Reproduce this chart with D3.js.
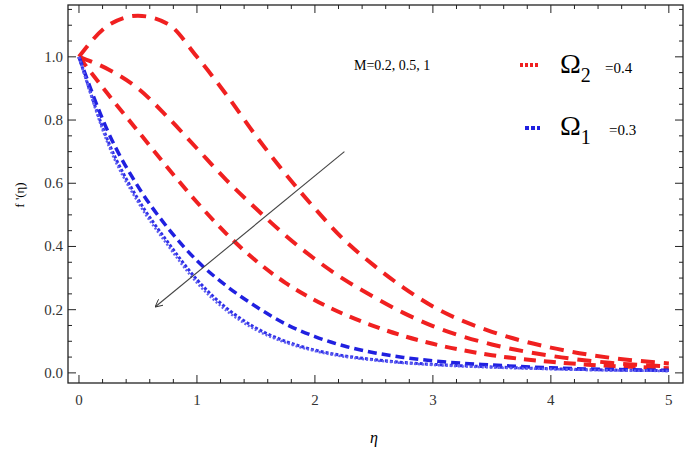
<!DOCTYPE html>
<html><head><meta charset="utf-8">
<script src="https://cdn.jsdelivr.net/npm/d3@7"></script>
<style>body{margin:0;background:#fff}text{font-family:"Liberation Serif",serif}</style>
</head><body><svg width="685" height="449"></svg>
<script>
const eta = [0, 0.25, 0.5, 0.75, 1, 1.25, 1.5, 1.75, 2, 2.25, 2.5, 2.75, 3, 3.5, 4, 4.5, 5];
const red1 = [1.0, 1.10, 1.13, 1.105, 1.0, 0.88, 0.75, 0.63, 0.52, 0.42, 0.34, 0.27, 0.21, 0.13, 0.08, 0.048, 0.03];
const red2 = [1.0, 0.96, 0.90, 0.81, 0.71, 0.61, 0.52, 0.435, 0.36, 0.295, 0.24, 0.19, 0.148, 0.09, 0.054, 0.032, 0.02];
const red3 = [1.0, 0.88, 0.765, 0.65, 0.54, 0.44, 0.355, 0.285, 0.23, 0.185, 0.148, 0.117, 0.092, 0.056, 0.035, 0.022, 0.015];
const blue1 = [1.0, 0.76, 0.59, 0.46, 0.355, 0.275, 0.21, 0.155, 0.115, 0.085, 0.064, 0.049, 0.038, 0.025, 0.016, 0.011, 0.008];
const blue2 = [1.0, 0.73, 0.55, 0.415, 0.295, 0.205, 0.142, 0.10, 0.072, 0.054, 0.042, 0.033, 0.027, 0.019, 0.013, 0.009, 0.007];
const blue3 = [1.0, 0.72, 0.54, 0.405, 0.285, 0.197, 0.136, 0.096, 0.069, 0.051, 0.04, 0.031, 0.025, 0.017, 0.012, 0.008, 0.006];
const xTicks = [0, 1, 2, 3, 4, 5];
const yTicks = [0, 0.2, 0.4, 0.6, 0.8, 1.0];

const svg = d3.select("svg");
const L = 68, R = 683, T = 5, B = 383;
const x = d3.scaleLinear().domain([-0.093, 5.12]).range([L, R]);
const y = d3.scaleLinear().domain([-0.032, 1.164]).range([B, T]);

svg.append("rect").attr("x", L).attr("y", T).attr("width", R - L).attr("height", B - T)
  .attr("fill", "none").attr("stroke", "#222").attr("stroke-width", 1.3);

const minorX = d3.range(0, 5.01, 0.2), minorY = d3.range(0, 1.16, 0.05);
minorX.forEach(v => {
  const major = xTicks.some(t => Math.abs(t - v) < 1e-6);
  const len = major ? 8 : 4;
  svg.append("line").attr("x1", x(v)).attr("x2", x(v)).attr("y1", B).attr("y2", B - len).attr("stroke", "#222");
  svg.append("line").attr("x1", x(v)).attr("x2", x(v)).attr("y1", T).attr("y2", T + len).attr("stroke", "#222");
});
minorY.forEach(v => {
  const major = yTicks.some(t => Math.abs(t - v) < 1e-6);
  const len = major ? 8 : 4;
  svg.append("line").attr("y1", y(v)).attr("y2", y(v)).attr("x1", L).attr("x2", L + len).attr("stroke", "#222");
  svg.append("line").attr("y1", y(v)).attr("y2", y(v)).attr("x1", R).attr("x2", R - len).attr("stroke", "#222");
});
xTicks.forEach(t => svg.append("text").attr("x", x(t)).attr("y", B + 22).attr("text-anchor", "middle")
  .attr("font-size", 15).attr("fill", "#333").text(t));
yTicks.forEach(t => svg.append("text").attr("x", L - 5).attr("y", y(t) + 5).attr("text-anchor", "end")
  .attr("font-size", 15).attr("fill", "#333").text(t.toFixed(1)));

svg.append("text").attr("x", 374).attr("y", 443).attr("text-anchor", "middle").attr("font-style", "italic")
  .attr("font-size", 16).text("η");
svg.append("text").attr("transform", "translate(24,195) rotate(-90)").attr("text-anchor", "middle")
  .attr("font-size", 13).text("f '(η)");

const line = d3.line().x((d, i) => x(eta[i])).y(d => y(d)).curve(d3.curveMonotoneX);
[[red1, "#f02020", "14,9", 4], [red2, "#f02020", "14,9", 4], [red3, "#f02020", "12,8", 4],
 [blue1, "#2020e0", "9,5", 3.5], [blue2, "#3030e8", "3,2", 3], [blue3, "#6060f0", "2,2", 2.5]]
  .forEach(([s, c, dash, w]) => svg.append("path").attr("d", line(s)).attr("fill", "none")
    .attr("stroke", c).attr("stroke-width", w).attr("stroke-dasharray", dash));

svg.append("defs").append("marker").attr("id", "ah").attr("viewBox", "0 0 10 10").attr("refX", 9).attr("refY", 5)
  .attr("markerWidth", 7).attr("markerHeight", 7).attr("orient", "auto")
  .append("path").attr("d", "M0,0L10,5L0,10").attr("fill", "none").attr("stroke", "#333").attr("stroke-width", 1.2);
svg.append("line").attr("x1", x(2.25)).attr("y1", y(0.70)).attr("x2", x(0.65)).attr("y2", y(0.21))
  .attr("stroke", "#444").attr("stroke-width", 1.1).attr("marker-end", "url(#ah)");

svg.append("text").attr("x", 354).attr("y", 70).attr("font-size", 14).text("M=0.2, 0.5, 1");
svg.append("line").attr("x1", 520).attr("x2", 538).attr("y1", 65).attr("y2", 65).attr("stroke", "#f02020")
  .attr("stroke-width", 4).attr("stroke-dasharray", "3,2");
svg.append("line").attr("x1", 525).attr("x2", 540).attr("y1", 128).attr("y2", 128).attr("stroke", "#2020e0")
  .attr("stroke-width", 4).attr("stroke-dasharray", "4,2");
const lg = [[73, "2", "=0.4"], [135, "1", "=0.3"]];
lg.forEach(([yy, sub, val]) => {
  const t = svg.append("text").attr("x", 560).attr("y", yy).attr("font-size", 28);
  t.append("tspan").text("Ω");
  t.append("tspan").attr("font-size", 20).attr("dy", 9).text(sub);
  svg.append("text").attr("x", sub === "2" ? 605 : 609).attr("y", yy).attr("font-size", 15).text(val);
});
</script></body></html>
